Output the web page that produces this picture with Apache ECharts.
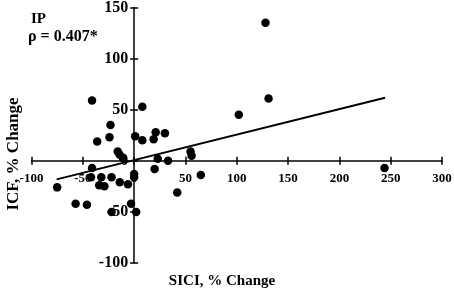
<!DOCTYPE html>
<html>
<head>
<meta charset="utf-8">
<script src="https://cdn.jsdelivr.net/npm/echarts@6/dist/echarts.min.js"></script>
<style>
  html, body { margin: 0; padding: 0; background: #fff; }
  #chart { width: 454px; height: 291px; }
</style>
</head>
<body>
<div id="chart"></div>
<script>
// SICI % change (x) vs ICF % change (y)
const sici = [
  -41, 8, -23, -24, -36, 1, 8, 21, 30, 19,
  -16, -14, -11, 23, 33, -41, -42, -32, -34, -29,
  -22, -14, -6, 0, 0, 20, -75, -57, -46, -22,
  -3, 2, 55, 56, 65, 42, 128, 131, 102, 244
]
const icf = [
  59, 53, 35, 23, 19, 24, 20, 28, 27, 21,
  9, 6, 3, 2, 0, -7, -16, -16, -24, -25,
  -16, -21, -23, -13, -16, -8, -26, -42, -43, -50,
  -42, -50, 9, 5, -14, -31, 135, 61, 45, -7
]
// fitted line end points
const fitX = [-75.5, 244.5]
const fitY = [-18.2, 61.6]

const xTicks = { min: -100, max: 300, interval: 50 }
const yTicks = { min: -100, max: 150, interval: 50 }

const points = sici.map((x, i) => [x, icf[i]])
const fitLine = fitX.map((x, i) => [x, fitY[i]])

const font = '"Liberation Serif", "Times New Roman", serif'
const black = '#000'

const chart = echarts.init(document.getElementById('chart'), null, { renderer: 'canvas' })

const lineStyle = { color: black, width: 1.5 }

// axes 0 carry line + labels, axes 1 only add the other half of each tick
chart.setOption({
  animation: false,
  backgroundColor: '#fff',
  grid: { left: 31.5, right: 12, top: 7.5, bottom: 28, containLabel: false, outerBoundsMode: 'none' },
  xAxis: [
    {
      type: 'value', ...xTicks, position: 'bottom',
      splitLine: { show: false },
      axisLine: { onZero: false, lineStyle },
      axisTick: { length: 4, lineStyle },
      axisLabel: { color: black, fontFamily: font, fontWeight: 'bold', fontSize: 13, margin: 11 }
    },
    {
      type: 'value', ...xTicks, position: 'top',
      splitLine: { show: false },
      axisLine: { show: false, onZero: false },
      axisTick: { length: 4, lineStyle },
      axisLabel: { show: false }
    }
  ],
  yAxis: [
    {
      type: 'value', ...yTicks, position: 'left',
      splitLine: { show: false },
      axisLine: { onZero: false, lineStyle },
      axisTick: { length: 4, lineStyle },
      axisLabel: { color: black, fontFamily: font, fontWeight: 'bold', fontSize: 16, margin: 6 }
    },
    {
      type: 'value', ...yTicks, position: 'right',
      splitLine: { show: false },
      axisLine: { show: false, onZero: false },
      axisTick: { length: 4, lineStyle },
      axisLabel: { show: false }
    }
  ],
  graphic: [
    { type: 'text', left: 31, top: 12, style: { text: 'IP', font: 'bold 15px ' + font, fill: black } },
    { type: 'text', left: 28, top: 29, style: { text: 'ρ = 0.407*', font: 'bold 16px ' + font, fill: black } },
    {
      type: 'text', x: 14, y: 154, rotation: Math.PI / 2,
      style: { text: 'ICF, % Change', font: 'bold 17px ' + font, fill: black, align: 'center', verticalAlign: 'middle' }
    },
    {
      type: 'text', x: 222, y: 281,
      style: { text: 'SICI, % Change', font: 'bold 15px ' + font, fill: black, align: 'center', verticalAlign: 'middle' }
    }
  ],
  series: [
    {
      type: 'line',
      data: fitLine,
      symbol: 'none',
      lineStyle: { color: black, width: 2 },
      z: 3
    },
    {
      type: 'scatter',
      data: points,
      symbol: 'circle',
      symbolSize: 8.5,
      itemStyle: { color: black, opacity: 1 },
      z: 4
    }
  ]
})

// move the axes so they cross at (0, 0)
const origin = chart.convertToPixel({ gridIndex: 0 }, [0, 0])
const lowCorner = chart.convertToPixel({ gridIndex: 0 }, [xTicks.min, yTicks.min])
const highCorner = chart.convertToPixel({ gridIndex: 0 }, [xTicks.max, yTicks.max])
const bottomOff = origin[1] - lowCorner[1]
const topOff = highCorner[1] - origin[1]
const leftOff = lowCorner[0] - origin[0]
const rightOff = origin[0] - highCorner[0]

chart.setOption({
  xAxis: [{ offset: bottomOff }, { offset: topOff }],
  yAxis: [{ offset: leftOff }, { offset: rightOff }]
})
</script>
</body>
</html>
